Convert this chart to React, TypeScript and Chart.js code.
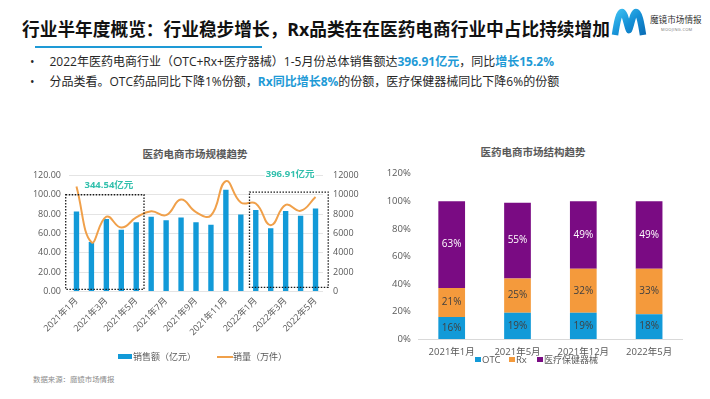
import React, { useEffect, useRef } from "react";
import { Chart, registerables } from "chart.js";
Chart.register(...registerables);

const FONT = '"Open Sans", "Noto Sans CJK SC", sans-serif';
const TXT = "#595959";

// ---------- header ----------
const TITLE = "行业半年度概览：行业稳步增长，Rx品类在在医药电商行业中占比持续增加";
const SOURCE = "数据来源：魔镜市场情报";

// ---------- left chart data ----------
const months = [
  "2021年1月", "2021年2月", "2021年3月", "2021年4月", "2021年5月", "2021年6月",
  "2021年7月", "2021年8月", "2021年9月", "2021年10月", "2021年11月", "2021年12月",
  "2022年1月", "2022年2月", "2022年3月", "2022年4月", "2022年5月",
];
const salesAmount = [82.8, 51.2, 75, 63.8, 71.7, 77.3, 73.6, 76.5, 71.5, 69.1, 105.1, 79.7, 84.3, 65.5, 83.1, 78.2, 85.8];
const salesVolume = [10850, 5100, 7730, 6610, 7650, 8300, 7900, 9500, 8200, 7860, 11400, 9200, 9100, 6840, 8950, 8340, 9760];
const leftSeries = ["销售额（亿元）", "销量（万件）"];
const boxLabels = ["344.54亿元", "396.91亿元"];

// ---------- right chart data ----------
const periods = ["2021年1月", "2021年5月", "2021年12月", "2022年5月"];
const otcShare = [16, 19, 19, 18];
const rxShare = [21, 25, 32, 33];
const deviceShare = [63, 55, 49, 49];
const rightSeries = ["OTC", "Rx", "医疗保健器械"];

const BLUE = "#129ad8";
const ORANGE = "#f49a3c";
const LINE_ORANGE = "#f0a04a";
const PURPLE = "#7a0b83";
const TEAL = "#33c0ad";

function LeftChart() {
  const ref = useRef<HTMLCanvasElement>(null);
  useEffect(() => {
    const boxPlugin = {
      id: "boxes",
      afterDatasetsDraw(chart: any) {
        const { ctx, scales } = chart;
        const x = scales.x;
        const y = scales.y;
        const boxes = [
          { l: -0.72, r: 4.52, t: 100, b: 2.2, lx: 2.17, ly: 109.4 },
          { l: 11.58, r: 16.85, t: 102.8, b: 4.3, lx: 14.3, ly: 121.3 },
        ];
        ctx.save();
        boxes.forEach((bx, k) => {
          const L = x.getPixelForValue(bx.l);
          const R = x.getPixelForValue(bx.r);
          const T = y.getPixelForValue(bx.t);
          const B = y.getPixelForValue(bx.b);
          ctx.setLineDash([1.5, 1.5]);
          ctx.lineWidth = 1.3;
          ctx.strokeStyle = "#1a1a1a";
          ctx.strokeRect(L, T, R - L, B - T);
          ctx.setLineDash([]);
          ctx.font = "bold 9.5px " + FONT;
          ctx.textAlign = "center";
          ctx.textBaseline = "middle";
          const cx = x.getPixelForValue(bx.lx);
          const cy = y.getPixelForValue(bx.ly);
          const w = ctx.measureText(boxLabels[k]).width;
          ctx.fillStyle = "#fff";
          ctx.fillRect(cx - w / 2 - 1, cy - 6, w + 2, 12);
          ctx.fillStyle = TEAL;
          ctx.fillText(boxLabels[k], cx, cy);
        });
        ctx.restore();
      },
    };
    const chart = new Chart(ref.current!, {
      type: "bar",
      data: {
        labels: months,
        datasets: [
          {
            type: "line",
            label: leftSeries[1],
            data: salesVolume,
            yAxisID: "y1",
            borderColor: LINE_ORANGE,
            borderWidth: 2,
            pointRadius: 0,
            tension: 0.45,
            order: 1,
          } as any,
          {
            type: "bar",
            label: leftSeries[0],
            data: salesAmount,
            yAxisID: "y",
            backgroundColor: BLUE,
            barPercentage: 0.36,
            categoryPercentage: 1,
            order: 2,
          },
        ],
      },
      options: {
        animation: false,
        responsive: false,
        layout: { padding: { top: 13, left: 0, right: 0, bottom: 0 } },
        plugins: { legend: { display: false }, tooltip: { enabled: false }, title: { display: false } },
        scales: {
          x: {
            grid: { display: false, drawTicks: false },
            border: { display: false },
            ticks: {
              autoSkip: false,
              maxRotation: 45,
              minRotation: 45,
              padding: 4,
              color: TXT,
              font: { size: 9, family: FONT },
              callback: (_v: any, i: number) => (i % 2 === 0 ? months[i] : ""),
            },
            afterFit: (s: any) => { s.height = 58.5; },
          },
          y: {
            position: "left",
            min: 0,
            max: 120,
            ticks: { stepSize: 20, padding: 8, color: TXT, font: { size: 9, family: FONT }, callback: (v: any) => Number(v).toFixed(2) },
            grid: { color: "#e4e4e4", drawTicks: false },
            border: { display: false },
            afterFit: (s: any) => { s.width = 49; },
          },
          y1: {
            position: "right",
            min: 0,
            max: 12000,
            ticks: { stepSize: 2000, padding: 10, color: TXT, font: { size: 9, family: FONT }, callback: (v: any) => String(v) },
            grid: { display: false, drawTicks: false },
            border: { display: false },
            afterFit: (s: any) => { s.width = 37; },
          },
        },
      },
      plugins: [boxPlugin],
    } as any);
    return () => chart.destroy();
  }, []);
  return <canvas ref={ref} width={340} height={190} style={{ position: "absolute", left: 20, top: 160, width: 340, height: 190 }} />;
}

function RightChart() {
  const ref = useRef<HTMLCanvasElement>(null);
  useEffect(() => {
    const labelPlugin = {
      id: "segLabels",
      afterDatasetsDraw(chart: any) {
        const { ctx } = chart;
        ctx.save();
        ctx.font = "10px " + FONT;
        ctx.textAlign = "center";
        ctx.textBaseline = "middle";
        chart.data.datasets.forEach((ds: any, i: number) => {
          const meta = chart.getDatasetMeta(i);
          meta.data.forEach((el: any, j: number) => {
            const p = el.getProps(["x", "y", "base"], true);
            ctx.fillStyle = i === 2 ? "#ffffff" : "#404040";
            ctx.fillText(ds.data[j] + "%", p.x, (p.y + p.base) / 2);
          });
        });
        ctx.restore();
      },
    };
    const common = { barPercentage: 0.406, categoryPercentage: 1 };
    const chart = new Chart(ref.current!, {
      type: "bar",
      data: {
        labels: periods,
        datasets: [
          { label: rightSeries[0], data: otcShare, backgroundColor: BLUE, ...common },
          { label: rightSeries[1], data: rxShare, backgroundColor: ORANGE, ...common },
          { label: rightSeries[2], data: deviceShare, backgroundColor: PURPLE, ...common },
        ],
      },
      options: {
        animation: false,
        responsive: false,
        layout: { padding: { top: 8, right: 18, left: 0, bottom: 0 } },
        plugins: { legend: { display: false }, tooltip: { enabled: false } },
        scales: {
          x: {
            stacked: true,
            grid: { display: false, drawTicks: false },
            border: { display: true, color: "#d9d9d9" },
            ticks: { padding: 8, color: TXT, font: { size: 9.5, family: FONT } },
            afterFit: (s: any) => { s.height = 21; },
          },
          y: {
            stacked: true,
            min: 0,
            max: 120,
            ticks: { stepSize: 20, padding: 8, color: TXT, font: { size: 9.5, family: FONT }, callback: (v: any) => v + "%" },
            grid: { display: false, drawTicks: false },
            border: { display: false },
            afterFit: (s: any) => { s.width = 48.8; },
          },
        },
      },
      plugins: [labelPlugin],
    } as any);
    return () => chart.destroy();
  }, []);
  return <canvas ref={ref} width={330} height={200} style={{ position: "absolute", left: 370, top: 160, width: 330, height: 200 }} />;
}

function Logo() {
  return (
    <>
      <svg style={{ position: "absolute", left: 610, top: 8 }} width={38} height={30} viewBox="0 0 38 30">
        <defs>
          <linearGradient id="lg" x1="0" y1="0" x2="1" y2="1">
            <stop offset="0" stopColor="#3bbdf0" />
            <stop offset="0.5" stopColor="#1590d6" />
            <stop offset="1" stopColor="#0b6fb8" />
          </linearGradient>
        </defs>
        <path d="M5 27 C7 14 9 4 12 4 C15 4 17 18 19 22 C21 18 23 4 26 4 C29 4 31 14 33 27" fill="none" stroke="url(#lg)" strokeWidth={6.5} strokeLinejoin="round" />
      </svg>
      <div style={{ position: "absolute", left: 650, top: 14, fontSize: 8.6, color: "#333", whiteSpace: "nowrap", lineHeight: "12px" }}>魔镜市场情报</div>
      <div style={{ position: "absolute", left: 661, top: 27, fontSize: 4, color: "#777", whiteSpace: "nowrap", lineHeight: "5px", letterSpacing: 0.3 }}>MOOJING.COM</div>
    </>
  );
}

const HL: React.CSSProperties = { color: "#1e9ad6", fontWeight: 700 };

export default function App() {
  return (
    <div style={{ position: "fixed", left: 0, top: 0, width: 710, height: 399, background: "#fff", overflow: "hidden", fontFamily: FONT }}>
      <div style={{ position: "absolute", left: 22, top: 16.5, fontSize: 17.7, fontWeight: 700, color: "#111", whiteSpace: "nowrap", lineHeight: "24px" }}>{TITLE}</div>
      <div style={{ position: "absolute", left: 35, top: 45.5, width: 227, height: 2.5, background: "#1e9ad6" }} />
      <Logo />
      <div style={{ position: "absolute", left: 30, top: 51.7, fontSize: 12, color: "#262626", whiteSpace: "nowrap", lineHeight: "20px" }}>
        <div>
          <span style={{ display: "inline-block", width: 19.5 }}>•</span>
          2022年医药电商行业（OTC+Rx+医疗器械）1-5月份总体销售额达<span style={HL}>396.91亿元</span>，同比<span style={HL}>增长15.2%</span>
        </div>
        <div>
          <span style={{ display: "inline-block", width: 19.5 }}>•</span>
          分品类看。OTC药品同比下降1%份额，<span style={HL}>Rx同比增长8%</span>的份额，医疗保健器械同比下降6%的份额
        </div>
      </div>

      <div style={{ position: "absolute", left: 95, top: 147, width: 200, textAlign: "center", fontSize: 10.5, fontWeight: 700, color: TXT, lineHeight: "14px" }}>医药电商市场规模趋势</div>
      <div style={{ position: "absolute", left: 433, top: 145, width: 200, textAlign: "center", fontSize: 10.5, fontWeight: 700, color: TXT, lineHeight: "14px" }}>医药电商市场结构趋势</div>

      <LeftChart />
      <RightChart />

      {/* left legend */}
      <div style={{ position: "absolute", left: 118, top: 354, width: 14, height: 5, background: BLUE }} />
      <div style={{ position: "absolute", left: 133, top: 350, fontSize: 9, color: TXT, lineHeight: "13px", whiteSpace: "nowrap" }}>{leftSeries[0]}</div>
      <div style={{ position: "absolute", left: 217, top: 355.5, width: 16, height: 2, background: LINE_ORANGE }} />
      <div style={{ position: "absolute", left: 233, top: 350, fontSize: 9, color: TXT, lineHeight: "13px", whiteSpace: "nowrap" }}>{leftSeries[1]}</div>

      {/* right legend */}
      <div style={{ position: "absolute", left: 475, top: 356.5, width: 5.5, height: 5.5, background: BLUE }} />
      <div style={{ position: "absolute", left: 482, top: 352.5, fontSize: 9.5, color: TXT, lineHeight: "13px", whiteSpace: "nowrap" }}>{rightSeries[0]}</div>
      <div style={{ position: "absolute", left: 509, top: 356.5, width: 5.5, height: 5.5, background: ORANGE }} />
      <div style={{ position: "absolute", left: 516, top: 352.5, fontSize: 9.5, color: TXT, lineHeight: "13px", whiteSpace: "nowrap" }}>{rightSeries[1]}</div>
      <div style={{ position: "absolute", left: 537, top: 356.5, width: 5.5, height: 5.5, background: PURPLE }} />
      <div style={{ position: "absolute", left: 544, top: 352.5, fontSize: 9, color: TXT, lineHeight: "13px", whiteSpace: "nowrap" }}>{rightSeries[2]}</div>

      <div style={{ position: "absolute", left: 33, top: 374, fontSize: 7.4, color: "#8c8c8c", lineHeight: "10px", whiteSpace: "nowrap" }}>{SOURCE}</div>
    </div>
  );
}
